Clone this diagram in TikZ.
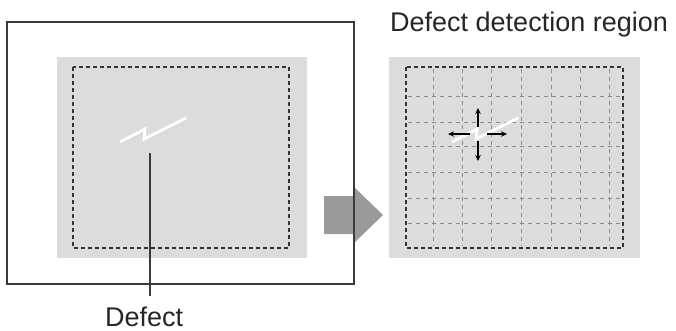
\documentclass[tikz,border=0pt]{standalone}
\usepackage{fontspec}
\setmainfont{Liberation Sans}
\usetikzlibrary{arrows.meta}
\definecolor{panel}{HTML}{DCDCDC}
\definecolor{frame}{HTML}{3A3A3A}
\definecolor{blockarrow}{HTML}{9A9A9A}
\definecolor{gridc}{HTML}{8C8C8C}
\begin{document}
\begin{tikzpicture}[x=1pt,y=-1pt,
  panelbox/.style={fill=panel,draw=none},
  dashbox/.style={draw=frame!90!black,line width=1.2pt,dash pattern=on 4pt off 3pt},
  gridline/.style={draw=gridc,line width=0.9pt,dash pattern=on 4pt off 4pt},
  crack/.style={draw=white,line width=2.8pt,line join=miter},
  label/.style={font=\fontsize{27}{32}\selectfont,text=black!85,inner sep=0pt},
  movearrow/.style={draw=black,line width=1.1pt,-{Stealth[length=6pt,width=5.5pt]}}]
\useasboundingbox (0,0) rectangle (676,331);
% block arrow (under the frame)
\fill[blockarrow] (324,196) -- (354,196) -- (354,187) -- (383,215) -- (354,243) -- (354,234) -- (324,234) -- cycle;
% left panel
\draw[frame,line width=1.8pt] (7,22) rectangle (354,284);
\path[panelbox] (57,57) rectangle (307,258);
\draw[dashbox] (73,67) rectangle (289,248);
\draw[crack] (120,142) -- (145,129) -- (144,139) -- (186,118);
\coordinate (lead) at (150,153);
\node[label,anchor=base west] (defect) at (105,326.5) {Defect};
\draw[frame,line width=1.3pt] (lead) -- (150,296);
% right panel
\node[label,anchor=base west] (title) at (390,31.5) {Defect detection region};
\path[panelbox] (389,57) rectangle (640,258);
\foreach \x in {433,462,491,521,551,580,609}
  \draw[gridline] (\x,69) -- (\x,246);
\foreach \y in {96,122,146,172,198,223}
  \draw[gridline] (408,\y) -- (621,\y);
\draw[dashbox] (406,67) rectangle (623,248);
\draw[crack] (452,142) -- (477,129) -- (476,139) -- (518,118);
\coordinate (cu) at (478,127);
\coordinate (cd) at (478,141);
\coordinate (cl) at (470,134);
\coordinate (cr) at (487,134);
\coordinate (tu) at (478,108);
\coordinate (td) at (478,161);
\coordinate (tl) at (448,134);
\coordinate (tr) at (507,134);
\draw[movearrow] (cu) -- (tu);
\draw[movearrow] (cd) -- (td);
\draw[movearrow] (cl) -- (tl);
\draw[movearrow] (cr) -- (tr);
\end{tikzpicture}
\end{document}
